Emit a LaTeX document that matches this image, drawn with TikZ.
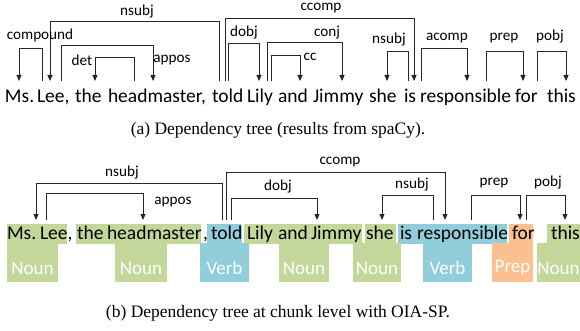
\documentclass[tikz,border=0pt]{standalone}
\usepackage{fontspec}
\setmainfont{Liberation Serif}
\newfontfamily\calib{Carlito}
\usetikzlibrary{arrows.meta}

\definecolor{nounc}{HTML}{C4D79B}
\definecolor{verbc}{HTML}{92CDDC}
\definecolor{prepc}{HTML}{FAC090}

\tikzset{
  word/.style={font=\calib\fontsize{19.5}{19.5}\selectfont, anchor=base west, inner sep=0pt, outer sep=0pt},
  rel/.style={font=\calib\fontsize{15.2}{15.2}\selectfont, inner sep=0pt},
  tagtext/.style={font=\calib\fontsize{19}{19}\selectfont, text=white, inner sep=0pt},
  dep/.style={line width=0.9pt, draw=black!85},
  deparrow/.style={dep, -{Triangle[length=6pt,width=5pt]}},
  caption/.style={font=\fontsize{17.5}{17.5}\selectfont, inner sep=0pt},
}

% dependency arc: name, head x, dependent x, top y, foot y
\newcommand\deparc[5]{%
  \coordinate (#1-s) at (#2,#5);
  \coordinate (#1-h) at (#2,#4);
  \coordinate (#1-t) at (#3,#5);
  \draw[deparrow] (#1-s) -- (#1-h) -| (#1-t);
}

\begin{document}
\begin{tikzpicture}[x=1pt,y=-1pt]
\useasboundingbox (0,0) rectangle (580,331);

% ---------- (a) token-level tree ----------
\node[word] (a1) at (5,103) {Ms.};
\node[word] (a2) at (37,103) {Lee,};
\node[word] (a3) at (75,103) {the};
\node[word] (a4) at (108,103) {headmaster,};
\node[word] (a5) at (212,103) {told};
\node[word] (a6) at (247,103) {Lily};
\node[word] (a7) at (278,103) {and};
\node[word] (a8) at (313,103) {Jimmy};
\node[word] (a9) at (369,103) {she};
\node[word] (a10) at (404,103) {is};
\node[word] (a11) at (420,103) {responsible};
\node[word] (a12) at (515,103) {for};
\node[word] (a13) at (547,103) {this};

\deparc{acompound}{42}{19}{48}{81}
\deparc{ansubj}{219}{50}{21}{81}
\deparc{aappos}{61}{153}{45}{81}
\deparc{adet}{134}{95}{57}{81}
\deparc{accomp}{225}{414}{18}{81}
\deparc{adobj}{228}{259}{43}{81}
\deparc{aconj}{267}{342}{42}{81}
\deparc{acc}{271}{300}{55}{81}
\deparc{ansubjb}{408}{387}{51}{81}
\deparc{aacomp}{421}{467}{48}{81}
\deparc{aprep}{486}{523}{51}{81}
\deparc{apobj}{537}{566}{51}{81}

\node[rel] (la1) at (40,35) {compound};
\node[rel] (la2) at (137,12) {nsubj};
\node[rel] (la3) at (172,60) {appos};
\node[rel] (la4) at (82,60) {det};
\node[rel] (la5) at (321,8) {ccomp};
\node[rel] (la6) at (244,33) {dobj};
\node[rel] (la7) at (327,33) {conj};
\node[rel] (la8) at (310,57) {cc};
\node[rel] (la9) at (389,40) {nsubj};
\node[rel] (la10) at (447,38) {acomp};
\node[rel] (la11) at (504,38) {prep};
\node[rel] (la12) at (550,37) {pobj};

\node[caption] (capa) at (278,130) {(a) Dependency tree (results from spaCy).};

% ---------- (b) chunk-level tree ----------
% chunk highlights
\fill[nounc] (7,224) rectangle (67,244);
\fill[nounc] (76,224) rectangle (201,244);
\fill[verbc] (207,224) rectangle (242,244);
\fill[nounc] (244,224) rectangle (362,244);
\fill[nounc] (365,224) rectangle (396,244);
\fill[verbc] (398,224) rectangle (507,244);
\fill[prepc] (509,224) rectangle (533,244);
\fill[nounc] (547,224) rectangle (580,244);
% tag boxes
\fill[nounc] (7,243) rectangle (58,282);
\fill[nounc] (115,243) rectangle (167,282);
\fill[verbc] (200,243) rectangle (249,282);
\fill[nounc] (279,243) rectangle (329,282);
\fill[nounc] (353,243) rectangle (401,282);
\fill[verbc] (423,243) rectangle (472,282);
\fill[prepc] (492,243) rectangle (533,282);
\fill[nounc] (537,243) rectangle (580,282);

\node[tagtext] (t1) at (32.5,268) {Noun};
\node[tagtext] (t2) at (141,268) {Noun};
\node[tagtext] (t3) at (224.5,268) {Verb};
\node[tagtext] (t4) at (304,268) {Noun};
\node[tagtext] (t5) at (377,268) {Noun};
\node[tagtext] (t6) at (447.5,268) {Verb};
\node[tagtext] (t7) at (512.5,268) {Prep};
\node[tagtext] (t8) at (558.5,268) {Noun};

\node[word] (b1) at (7,239) {Ms.};
\node[word] (b2) at (40,239) {Lee,};
\node[word] (b3) at (77,239) {the};
\node[word] (b4) at (107,239) {headmaster};
\node[word] (b5) at (203,239) {,};
\node[word] (b6) at (211,239) {told};
\node[word] (b7) at (247,239) {Lily};
\node[word] (b8) at (278,239) {and};
\node[word] (b9) at (311,239) {Jimmy};
\node[word] (b10) at (366,239) {she};
\node[word] (b11) at (400,239) {is};
\node[word] (b12) at (417,239) {responsible};
\node[word] (b13) at (512,239) {for};
\node[word] (b14) at (551,239) {this};

\deparc{bnsubj}{222}{36}{183}{220}
\deparc{bappos}{46}{143}{193}{220}
\deparc{bccomp}{226}{445}{172}{220}
\deparc{bdobj}{231}{317}{198}{220}
\deparc{bnsubjb}{433}{382}{195}{220}
\deparc{bprep}{471}{520}{195}{220}
\deparc{bpobj}{526}{565}{195}{220}

\node[rel] (lb1) at (122,173) {nsubj};
\node[rel] (lb2) at (173,202) {appos};
\node[rel] (lb3) at (340,162) {ccomp};
\node[rel] (lb4) at (278,187) {dobj};
\node[rel] (lb5) at (412,185) {nsubj};
\node[rel] (lb6) at (494,183) {prep};
\node[rel] (lb7) at (548,183) {pobj};

\node[caption] (capb) at (278,313) {(b) Dependency tree at chunk level with OIA-SP.};
\end{tikzpicture}
\end{document}
